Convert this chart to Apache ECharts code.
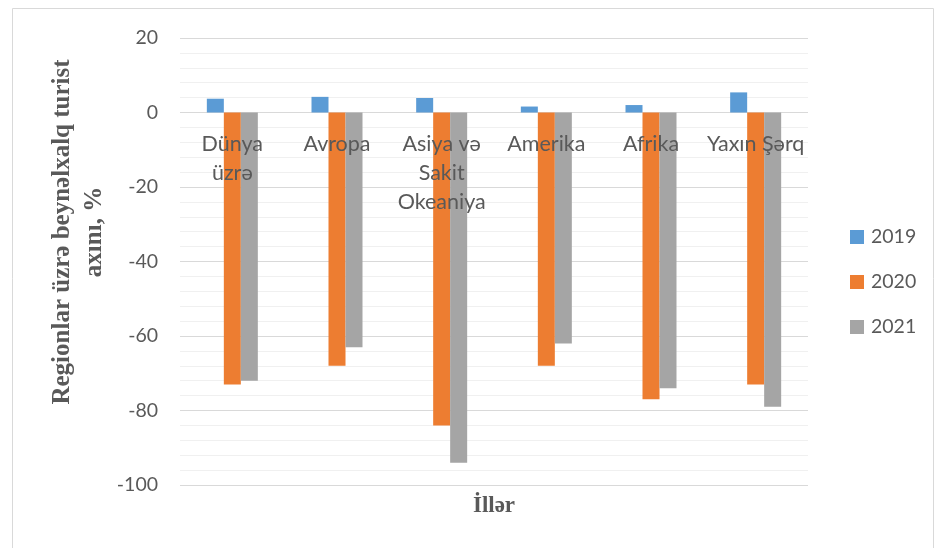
<!DOCTYPE html>
<html>
<head>
<meta charset="utf-8">
<script src="https://cdn.jsdelivr.net/npm/echarts@6/dist/echarts.min.js"></script>
<style>html,body{margin:0;padding:0;background:#fff}#c{width:941px;height:548px}</style>
</head>
<body>
<div id="c"></div>
<script>
const categories = ['Dünya\nüzrə', 'Avropa', 'Asiya və\nSakit\nOkeaniya', 'Amerika', 'Afrika', 'Yaxın Şərq'];
const seriesNames = ['2019', '2020', '2021'];
const values2019 = [3.7, 4.2, 3.9, 1.6, 2.0, 5.4];
const values2020 = [-73, -68, -84, -68, -77, -73];
const values2021 = [-72, -63, -94, -62, -74, -79];
const yTicks = { min: -100, max: 20, interval: 20 };
const yTitle = 'Regionlar üzrə beynəlxalq turist\naxını, %';
const xTitle = 'İllər';

const colors = ['#5B9BD5', '#ED7D31', '#A5A5A5'];
const font = 'Lato, "Liberation Sans", sans-serif';
const serif = '"Liberation Serif", "DejaVu Serif", serif';
const gridTop = 38, gridBottom = 63, chartH = 548;
const chart = echarts.init(document.getElementById('c'));
const data = [values2019, values2020, values2021];
// place category axis at value 0 (Excel "crosses at 0")
const plotH = chartH - gridTop - gridBottom;
const zeroOffset = -plotH * (0 - yTicks.min) / (yTicks.max - yTicks.min);
chart.setOption({
  animation: false,
  color: colors,
  grid: { left: 180, right: 133, top: gridTop, bottom: gridBottom, containLabel: false, outerBoundsMode: 'none' },
  legend: {
    orient: 'vertical', left: 845, top: 222,
    itemWidth: 14, itemHeight: 14, itemGap: 25,
    icon: 'rect',
    textStyle: { fontFamily: font, fontSize: 19.5, color: '#595959', padding: [0, 0, 0, 2] },
    data: seriesNames
  },
  xAxis: {
    type: 'category', data: categories, position: 'bottom', offset: zeroOffset, z: 5,
    axisLine: { show: false, onZero: false },
    axisTick: { show: false },
    axisLabel: { interval: 0, margin: 17, fontFamily: font, fontSize: 21.5, color: '#595959', lineHeight: 29, verticalAlign: 'top', hideOverlap: false }
  },
  yAxis: {
    type: 'value', min: yTicks.min, max: yTicks.max, interval: yTicks.interval,
    axisLine: { show: false }, axisTick: { show: false },
    axisLabel: { margin: 22, fontFamily: font, fontSize: 19.5, color: '#595959' },
    splitLine: { lineStyle: { color: '#d9d9d9', width: 1 } },
    minorTick: { show: false, splitNumber: 5 },
    minorSplitLine: { show: true, lineStyle: { color: '#f0f0f0', width: 1 } }
  },
  series: seriesNames.map((n, i) => ({
    name: n, type: 'bar', data: data[i], barWidth: 17, barGap: '0%', z: 2
  })),
  graphic: [
    { type: 'rect', shape: { x: 12.5, y: 8.5, width: 921, height: 570 }, style: { fill: 'none', stroke: '#d9d9d9', lineWidth: 1 }, silent: true },
    { type: 'text', x: 79, y: 232, rotation: Math.PI / 2,
      style: { text: yTitle, fontFamily: serif, fontWeight: 'bold', fontSize: 25, fill: '#595959', align: 'center', verticalAlign: 'middle', lineHeight: 32 } },
    { type: 'text', x: 494, y: 506,
      style: { text: xTitle, fontFamily: serif, fontWeight: 'bold', fontSize: 23, fill: '#595959', align: 'center', verticalAlign: 'middle' } }
  ]
});
</script>
</body>
</html>
